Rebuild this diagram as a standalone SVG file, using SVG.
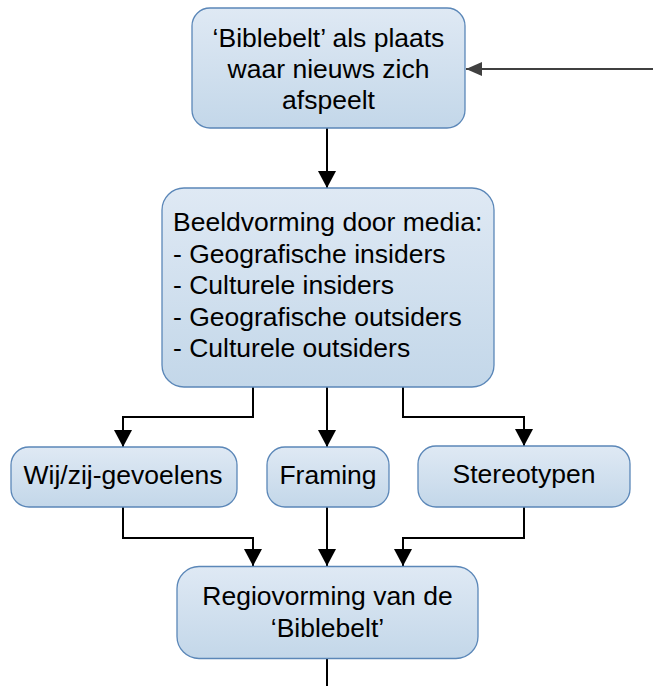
<svg xmlns="http://www.w3.org/2000/svg" width="654" height="686" viewBox="0 0 654 686">
<defs>
<linearGradient id="g" x1="0" y1="0" x2="0" y2="1">
<stop offset="0" stop-color="#dfe9f4"/>
<stop offset="1" stop-color="#c3d7e9"/>
</linearGradient>
<marker id="a" markerUnits="userSpaceOnUse" markerWidth="17" markerHeight="18" refX="17" refY="9" orient="auto">
<path d="M0,0 L17,9 L0,18 z" fill="#000"/>
</marker>
<marker id="ag" markerUnits="userSpaceOnUse" markerWidth="16" markerHeight="14" refX="16" refY="7" orient="auto">
<path d="M0,0 L16,7 L0,14 z" fill="#404040"/>
</marker>
</defs>
<style>
.box{fill:url(#g);stroke:#5b87b8;stroke-width:1.3}
.t{font-family:"Liberation Sans",Arial,sans-serif;font-size:26.5px;fill:#000}
.c{text-anchor:middle}
.ln{fill:none;stroke:#000;stroke-width:2;marker-end:url(#a)}
</style>
<g id="connectors">
<path class="ln" d="M653,69 L466,69" style="stroke:#404040;marker-end:url(#ag)"/>
<path class="ln" d="M327,128 L327,188"/>
<path class="ln" d="M253,387 L253,417 L123,417 L123,447"/>
<path class="ln" d="M327,387 L327,447"/>
<path class="ln" d="M403,387 L403,417 L524,417 L524,446"/>
<path class="ln" d="M123,507 L123,538 L253,538 L253,566"/>
<path class="ln" d="M327,507 L327,566"/>
<path class="ln" d="M524,507 L524,538 L403,538 L403,566"/>
<path d="M327,658 L327,686" fill="none" stroke="#000" stroke-width="2"/>
</g>
<g id="n1">
<rect class="box" x="192" y="8" width="273" height="120" rx="18"/>
<text class="t c" x="328.5" y="47">‘Biblebelt’ als plaats</text>
<text class="t c" x="328.5" y="78">waar nieuws zich</text>
<text class="t c" x="328.5" y="109">afspeelt</text>
</g>
<g id="n2">
<rect class="box" x="162" y="188" width="332" height="199" rx="22"/>
<text class="t" x="173" y="231">Beeldvorming door media:</text>
<text class="t" x="173" y="262.5">- Geografische insiders</text>
<text class="t" x="173" y="294">- Culturele insiders</text>
<text class="t" x="173" y="325.5">- Geografische outsiders</text>
<text class="t" x="173" y="357">- Culturele outsiders</text>
</g>
<g id="n3">
<rect class="box" x="11" y="447" width="226" height="60" rx="18"/>
<text class="t c" x="123" y="484">Wij/zij-gevoelens</text>
</g>
<g id="n4">
<rect class="box" x="267" y="447" width="122" height="60" rx="18"/>
<text class="t c" x="328" y="484">Framing</text>
</g>
<g id="n5">
<rect class="box" x="418" y="446" width="212" height="61" rx="18"/>
<text class="t c" x="524" y="483">Stereotypen</text>
</g>
<g id="n6">
<rect class="box" x="177" y="566.5" width="301" height="92" rx="22"/>
<text class="t c" x="327.5" y="605">Regiovorming van de</text>
<text class="t c" x="327.5" y="637">‘Biblebelt’</text>
</g>
</svg>
